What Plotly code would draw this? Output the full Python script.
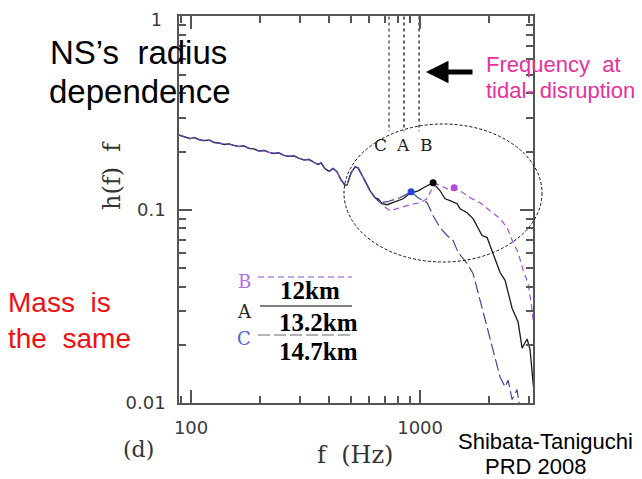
import plotly.graph_objects as go

# ---------------- data ----------------
# shared low-frequency part (all three models overlap)
freq_common = [88.6, 94.1, 99.0, 103.1, 108.4, 114.0, 119.9, 126.0, 132.5, 139.4, 146.5,
               154.1, 162.0, 170.4, 179.2, 188.4, 198.1, 208.4, 219.1, 230.4, 242.3,
               254.8, 267.9, 281.8, 296.3, 311.5, 327.6, 344.4, 358.6, 369.6, 384.8,
               400.6, 417.0, 434.1, 451.9, 470.5, 480.0, 499.7, 520.2, 536.1, 558.0,
               580.9, 604.8, 636.0]
hf_common = [0.2435, 0.2378, 0.2336, 0.2364, 0.2308, 0.2281, 0.2295, 0.2228, 0.2215, 0.2176, 0.2189,
             0.2150, 0.2125, 0.2138, 0.2075, 0.2063, 0.2014, 0.2026, 0.1979, 0.1955, 0.1967,
             0.1909, 0.1887, 0.1898, 0.1843, 0.1810, 0.1821, 0.1757, 0.1715, 0.1747, 0.1627,
             0.1579, 0.1636, 0.1570, 0.1427, 0.1337, 0.1345, 0.1551, 0.1666, 0.1646, 0.1515,
             0.1377, 0.1253, 0.1153]

# A : 13.2 km (solid black)
freq_A = [655.6, 682.6, 717.7, 762.4, 843.1, 904.3, 980.0, 1073, 1140, 1223, 1286, 1352,
          1451, 1495, 1604, 1703, 1774, 1865, 1962, 2022, 2084, 2235, 2350, 2423, 2522,
          2679, 2789, 2933, 3022, 3114, 3209]
hf_A = [0.1139, 0.1074, 0.1061, 0.1087, 0.1139, 0.1216, 0.1253, 0.1330, 0.1377, 0.1253, 0.1139, 0.1113,
        0.1074, 0.1012, 0.0965, 0.0899, 0.0827, 0.0735, 0.0717, 0.0652, 0.0600, 0.0473, 0.0431, 0.0369, 0.0309,
        0.0262, 0.0192, 0.0214, 0.0188, 0.0127, 0.0092]

# B : 12 km (purple dashed)
freq_B = [689.5, 739.6, 817.9, 904.3, 1000, 1073, 1128, 1175, 1235, 1312, 1408, 1495,
          1653, 1828, 2022, 2235, 2398, 2547, 2679, 2818, 2963, 3084, 3209]
hf_B = [0.1049, 0.0988, 0.1024, 0.1061, 0.1087, 0.1139, 0.1283, 0.1361, 0.1330, 0.1283, 0.1299, 0.1253,
        0.1153, 0.1087, 0.0988, 0.0899, 0.0807, 0.0676, 0.0600, 0.0485, 0.0415, 0.0302, 0.0199]

# C : 14.7 km (blue long dashed)
freq_C = [668.9, 717.7, 817.9, 913.4, 980.0, 1073, 1140, 1223, 1312, 1394, 1466, 1604,
          1703, 1828, 1962, 2084, 2235, 2350, 2423, 2522, 2651, 2733]
hf_C = [0.1087, 0.1100, 0.1153, 0.1238, 0.1153, 0.1087, 0.0931, 0.0807, 0.0735, 0.0692, 0.0600, 0.0527,
        0.0468, 0.0340, 0.0246, 0.0188, 0.0136, 0.0121, 0.0131, 0.0104, 0.0117, 0.0092]

# marked points (tidal disruption onset)
dot_freq = {"C": 913.4, "A": 1140, "B": 1408}
dot_hf = {"C": 0.1238, "A": 0.1377, "B": 0.1299}

# frequency at tidal disruption (vertical lines)
tidal_freq = {"C": 732, "A": 851, "B": 990}
tidal_top, tidal_bottom = 1.0, 0.255

x_tickvals = [100, 1000]
x_ticktext = ["100", "1000"]
x_minor = [90, 200, 300, 400, 500, 600, 700, 800, 900, 2000, 3000]
y_tickvals = [0.01, 0.1, 1]
y_ticktext = ["0.01", "0.1", ""]      # the "1" label is drawn separately (it sits at the page edge)
y_top_label = "1"
y_minor = [0.02, 0.03, 0.04, 0.05, 0.06, 0.07, 0.08, 0.09,
           0.2, 0.3, 0.4, 0.5, 0.6, 0.7, 0.8, 0.9]

# ---------------- layout helpers ----------------
# the page body adds an 8 px offset; the figure is sized to fit the window
OFF = 8
W, H = 642 - OFF, 479 - OFF
L, R, T, B = 179, 533, 16, 403   # plot frame in window pixels


def px(x):
    return (x - L) / (R - L)


def py(y):
    return (B - y) / (B - T)


COL_A = "#1a1a1a"
COL_B = "#a24fd6"
COL_C = "#45459e"

fig = go.Figure()

fig.add_trace(go.Scatter(x=freq_common + freq_A, y=hf_common + hf_A, mode="lines",
                         line=dict(color=COL_A, width=1.3), hoverinfo="skip"))
fig.add_trace(go.Scatter(x=freq_common + freq_B, y=hf_common + hf_B, mode="lines",
                         line=dict(color=COL_B, width=1.2, dash="6px,4px"), hoverinfo="skip"))
fig.add_trace(go.Scatter(x=freq_common + freq_C, y=hf_common + hf_C, mode="lines",
                         line=dict(color=COL_C, width=1.2, dash="12px,4px"), hoverinfo="skip"))

# vertical dotted lines
for key, col in (("C", "#5656a8"), ("A", "#333333"), ("B", "#444444")):
    fig.add_trace(go.Scatter(x=[tidal_freq[key], tidal_freq[key]], y=[tidal_top, tidal_bottom],
                             mode="lines", line=dict(color=col, width=1.5, dash="dot"),
                             hoverinfo="skip", cliponaxis=False))

# dots
for key, col in (("C", "#2244dd"), ("A", "#000000"), ("B", "#b548e0")):
    fig.add_trace(go.Scatter(x=[dot_freq[key]], y=[dot_hf[key]], mode="markers",
                             marker=dict(color=col, size=7), hoverinfo="skip"))

axis_common = dict(showline=True, linecolor="#555555", linewidth=1.5, mirror="allticks",
                   ticks="inside", ticklen=13, tickwidth=1.6, tickcolor="#555555",
                   showgrid=False, zeroline=False, automargin=False,
                   ticklabeloverflow="allow",
                   tickfont=dict(family="DejaVu Sans", size=18, color="#3a3a3a"))
minor_common = dict(ticks="inside", ticklen=7, tickwidth=1.5, tickcolor="#555555", showgrid=False)

fig.update_layout(
    width=W, height=H,
    margin=dict(l=L - OFF, r=W - (R - OFF), t=T - OFF, b=H - (B - OFF), pad=0),
    paper_bgcolor="white", plot_bgcolor="white",
    showlegend=False,
    xaxis=dict(type="log", range=[1.9474, 3.493], tickvals=x_tickvals, ticktext=x_ticktext,
               ticklabelstandoff=8, minor=dict(tickvals=x_minor, **minor_common), **axis_common),
    yaxis=dict(type="log", range=[-2.001, 0.003], tickvals=y_tickvals, ticktext=y_ticktext,
               ticklabelstandoff=8, minor=dict(tickvals=y_minor, **minor_common), **axis_common),
)

# ellipse
fig.add_shape(type="circle", xref="paper", yref="paper",
              x0=px(344), x1=px(542), y0=py(262), y1=py(124),
              line=dict(color="#111111", width=1, dash="3px,2px"))

# legend lines
fig.add_shape(type="line", xref="paper", yref="paper", x0=px(258), x1=px(352), y0=py(277), y1=py(277),
              line=dict(color="#b68ae0", width=1.3, dash="6px,4px"))
fig.add_shape(type="line", xref="paper", yref="paper", x0=px(260), x1=px(352), y0=py(306), y1=py(306),
              line=dict(color="#555555", width=1.3))
fig.add_shape(type="line", xref="paper", yref="paper", x0=px(258), x1=px(352), y0=py(335), y1=py(335),
              line=dict(color="#999999", width=1.3, dash="12px,4px"))


def text(x, y, s, size, color="black", family="Liberation Sans", anchor="left", **kw):
    fig.add_annotation(x=px(x), y=py(y), xref="paper", yref="paper", text=s, showarrow=False,
                       xanchor=anchor, yanchor="middle",
                       font=dict(size=size, color=color, family=family), **kw)


# top tick label of the y axis
text(164, 20, y_top_label, 17, "#3a3a3a", "DejaVu Sans", anchor="right")

text(48, 52, "NS\u2019s  radius", 33)
text(47, 92, "dependence", 33)
text(484, 65, "Frequency  at", 22, "#e8309e")
text(484, 90, "tidal- disruption", 22, "#e8309e")
text(6, 302, "Mass  is", 28, "#ee1111")
text(6, 338, "the  same", 28, "#ee1111")
text(456, 441, "Shibata-Taniguchi", 22)
text(483, 466, "PRD 2008", 22)

# axis titles / panel label
text(112, 176, "h(f)  f", 24, "#333333", "DejaVu Serif", anchor="center", textangle=-90)
text(355, 455, "f  (Hz)", 24, "#333333", "DejaVu Serif", anchor="center")
text(138, 449, "(d)", 22, "#333333", "DejaVu Serif", anchor="center")

# C A B labels
text(380, 145, "C", 17, "#222222", "DejaVu Serif", anchor="center")
text(403, 145, "A", 17, "#222222", "DejaVu Serif", anchor="center")
text(426, 145, "B", 17, "#222222", "DejaVu Serif", anchor="center")

# legend letters
text(244, 281, "B", 18, "#b070e8", "DejaVu Serif", anchor="center")
text(244, 311, "A", 18, "#222222", "DejaVu Serif", anchor="center")
text(244, 338, "C", 18, "#4d5fd8", "DejaVu Serif", anchor="center")

# legend values
text(310, 290, "<b>12km</b>", 25, "black", "Liberation Serif", anchor="center")
text(318, 322, "<b>13.2km</b>", 25, "black", "Liberation Serif", anchor="center")
text(318, 351, "<b>14.7km</b>", 25, "black", "Liberation Serif", anchor="center")

# arrow
fig.add_annotation(x=px(426), y=py(72), xref="paper", yref="paper", text="", showarrow=True,
                   ax=48, ay=0, arrowhead=2, arrowsize=0.9, arrowwidth=5, arrowcolor="black",
                   standoff=0)

fig.write_html("out.html")
